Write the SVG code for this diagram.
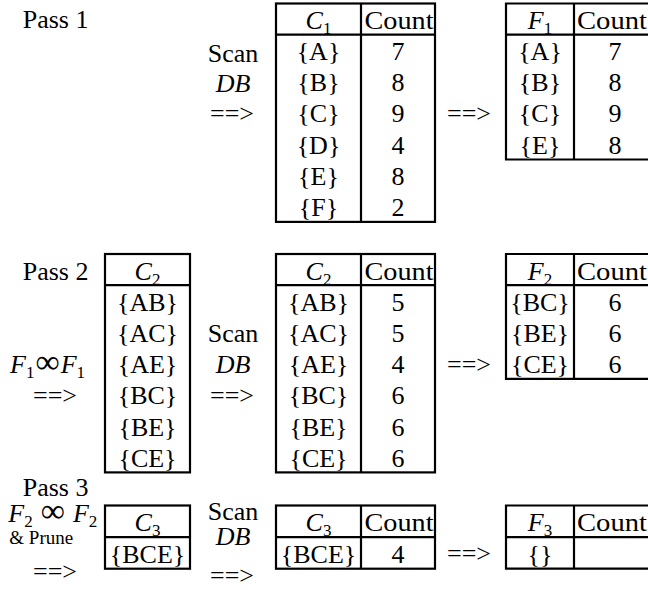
<svg xmlns="http://www.w3.org/2000/svg" width="648" height="590" viewBox="0 0 648 590">
<style>
  text { font-family: "Liberation Serif", "Times New Roman", serif; font-size: 26px; fill: #000; }
  .m { text-anchor: middle; }
  .i { font-style: italic; }
  .sub { font-size: 17px; font-style: normal; }
  .inf { font-size: 34px; font-style: normal; }
  .sm { font-size: 19px; }
  .tb { fill: none; stroke: #000; stroke-width: 2.2; }
</style>
<rect width="648" height="590" fill="#fff"/>

<!-- Labels -->
<g id="labels">
  <text x="22.7" y="28">Pass 1</text>
  <text x="22.7" y="280">Pass 2</text>
  <text x="22.7" y="496">Pass 3</text>
  <text x="233" y="62" class="m">Scan</text>
  <text x="233" y="92" class="m i">DB</text>
  <text x="233" y="342" class="m">Scan</text>
  <text x="233" y="373" class="m i">DB</text>
  <text x="10" y="373"><tspan class="i">F</tspan><tspan class="sub" dy="5">1</tspan><tspan class="inf" dx="1" dy="-5">∞</tspan><tspan class="i" dx="1">F</tspan><tspan class="sub" dy="5">1</tspan></text>
  <text x="8.3" y="522"><tspan class="i">F</tspan><tspan class="sub" dy="5">2</tspan><tspan class="inf" dx="8" dy="-5">∞</tspan><tspan class="i" dx="8">F</tspan><tspan class="sub" dy="5">2</tspan></text>
  <text x="9.3" y="544" class="sm">&amp; Prune</text>
  <text x="233" y="520" class="m">Scan</text>
  <text x="233" y="545" class="m i">DB</text>
</g>

<!-- Connectors -->
<g id="connectors">
  <text x="232" y="122" class="m">==&gt;</text>
  <text x="469" y="122" class="m">==&gt;</text>
  <text x="55" y="404" class="m">==&gt;</text>
  <text x="232" y="404" class="m">==&gt;</text>
  <text x="469" y="373" class="m">==&gt;</text>
  <text x="55" y="580" class="m">==&gt;</text>
  <text x="232" y="584" class="m">==&gt;</text>
  <text x="469" y="562" class="m">==&gt;</text>
</g>

<!-- Pass 1: C1 -->
<g id="C1">
  <rect class="tb" x="276" y="3.5" width="159" height="218.4"/>
  <path class="tb" d="M276,34.7H435M361,3.5V221.9"/>
  <text x="318.5" y="28.8" class="m"><tspan class="i">C</tspan><tspan class="sub" dy="5">1</tspan></text>
  <text x="364.5" y="28.8" textLength="69" lengthAdjust="spacingAndGlyphs">Count</text>
  <text x="318.5" y="60" class="m">{A}</text><text x="398" y="60" class="m">7</text>
  <text x="318.5" y="91.2" class="m">{B}</text><text x="398" y="91.2" class="m">8</text>
  <text x="318.5" y="122.4" class="m">{C}</text><text x="398" y="122.4" class="m">9</text>
  <text x="318.5" y="153.6" class="m">{D}</text><text x="398" y="153.6" class="m">4</text>
  <text x="318.5" y="184.8" class="m">{E}</text><text x="398" y="184.8" class="m">8</text>
  <text x="318.5" y="216" class="m">{F}</text><text x="398" y="216" class="m">2</text>
</g>

<!-- Pass 1: F1 -->
<g id="F1">
  <path class="tb" d="M660,3.5H506V159.5H660M506,34.7H660M574,3.5V159.5"/>
  <text x="540" y="28.8" class="m"><tspan class="i">F</tspan><tspan class="sub" dy="5">1</tspan></text>
  <text x="577" y="28.8" textLength="70" lengthAdjust="spacingAndGlyphs">Count</text>
  <text x="540" y="60" class="m">{A}</text><text x="615" y="60" class="m">7</text>
  <text x="540" y="91.2" class="m">{B}</text><text x="615" y="91.2" class="m">8</text>
  <text x="540" y="122.4" class="m">{C}</text><text x="615" y="122.4" class="m">9</text>
  <text x="540" y="153.6" class="m">{E}</text><text x="615" y="153.6" class="m">8</text>
</g>

<!-- Pass 2: C2 candidates -->
<g id="C2-candidates">
  <rect class="tb" x="105" y="254" width="85" height="218.4"/>
  <path class="tb" d="M105,285.2H190"/>
  <text x="147.5" y="279.5" class="m"><tspan class="i">C</tspan><tspan class="sub" dy="5">2</tspan></text>
  <text x="147.5" y="310.7" class="m">{AB}</text>
  <text x="147.5" y="341.9" class="m">{AC}</text>
  <text x="147.5" y="373.1" class="m">{AE}</text>
  <text x="147.5" y="404.3" class="m">{BC}</text>
  <text x="147.5" y="435.5" class="m">{BE}</text>
  <text x="147.5" y="466.7" class="m">{CE}</text>
</g>

<!-- Pass 2: C2 counts -->
<g id="C2-counts">
  <rect class="tb" x="276" y="254" width="159" height="218.4"/>
  <path class="tb" d="M276,285.2H435M361,254V472.4"/>
  <text x="318.5" y="279.5" class="m"><tspan class="i">C</tspan><tspan class="sub" dy="5">2</tspan></text>
  <text x="364.5" y="279.5" textLength="69" lengthAdjust="spacingAndGlyphs">Count</text>
  <text x="318.5" y="310.7" class="m">{AB}</text><text x="398" y="310.7" class="m">5</text>
  <text x="318.5" y="341.9" class="m">{AC}</text><text x="398" y="341.9" class="m">5</text>
  <text x="318.5" y="373.1" class="m">{AE}</text><text x="398" y="373.1" class="m">4</text>
  <text x="318.5" y="404.3" class="m">{BC}</text><text x="398" y="404.3" class="m">6</text>
  <text x="318.5" y="435.5" class="m">{BE}</text><text x="398" y="435.5" class="m">6</text>
  <text x="318.5" y="466.7" class="m">{CE}</text><text x="398" y="466.7" class="m">6</text>
</g>

<!-- Pass 2: F2 -->
<g id="F2">
  <path class="tb" d="M660,254H506V378.8H660M506,285.2H660M574,254V378.8"/>
  <text x="540" y="279.5" class="m"><tspan class="i">F</tspan><tspan class="sub" dy="5">2</tspan></text>
  <text x="577" y="279.5" textLength="70" lengthAdjust="spacingAndGlyphs">Count</text>
  <text x="540" y="310.7" class="m">{BC}</text><text x="615" y="310.7" class="m">6</text>
  <text x="540" y="341.9" class="m">{BE}</text><text x="615" y="341.9" class="m">6</text>
  <text x="540" y="373.1" class="m">{CE}</text><text x="615" y="373.1" class="m">6</text>
</g>

<!-- Pass 3: C3 candidates -->
<g id="C3-candidates">
  <rect class="tb" x="105" y="505.5" width="85" height="63.2"/>
  <path class="tb" d="M105,537.1H190"/>
  <text x="147.5" y="531" class="m"><tspan class="i">C</tspan><tspan class="sub" dy="5">3</tspan></text>
  <text x="147.5" y="562.5" class="m">{BCE}</text>
</g>

<!-- Pass 3: C3 counts -->
<g id="C3-counts">
  <rect class="tb" x="276" y="505.5" width="159" height="63.2"/>
  <path class="tb" d="M276,537.1H435M361,505.5V568.7"/>
  <text x="318.5" y="531" class="m"><tspan class="i">C</tspan><tspan class="sub" dy="5">3</tspan></text>
  <text x="364.5" y="531" textLength="69" lengthAdjust="spacingAndGlyphs">Count</text>
  <text x="318.5" y="562.5" class="m">{BCE}</text><text x="398" y="562.5" class="m">4</text>
</g>

<!-- Pass 3: F3 -->
<g id="F3">
  <path class="tb" d="M660,505.5H506V568.7H660M506,537.1H660M574,505.5V568.7"/>
  <text x="540" y="531" class="m"><tspan class="i">F</tspan><tspan class="sub" dy="5">3</tspan></text>
  <text x="577" y="531" textLength="70" lengthAdjust="spacingAndGlyphs">Count</text>
  <text x="540" y="562.5" class="m">{}</text>
</g>
</svg>
